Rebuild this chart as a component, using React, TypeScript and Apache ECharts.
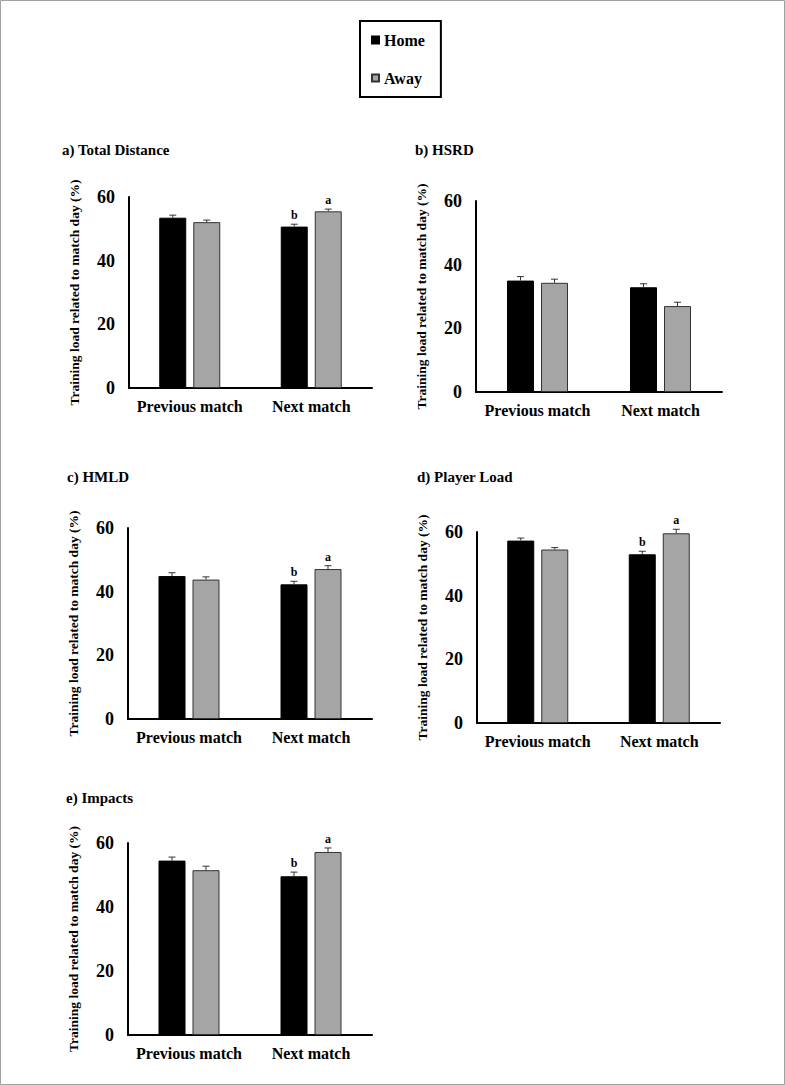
import React, { useEffect, useRef } from "react";
import * as echarts from "echarts";

const categories = ["Previous match", "Next match"];
const panelTitles = ["a) Total Distance", "b) HSRD", "c) HMLD", "d) Player Load", "e) Impacts"];
const yTicks = [0, 20, 40, 60];
const yAxisName = "Training load related to match day (%)";
const seriesNames = ["Home", "Away"];

// means per panel [Previous match, Next match]
const homeTotalDistance = [53.5, 50.7];
const awayTotalDistance = [52.1, 55.5];
const homeHSRD = [35.0, 32.9];
const awayHSRD = [34.3, 27.0];
const homeHMLD = [44.9, 42.3];
const awayHMLD = [43.8, 47.1];
const homePlayerLoad = [57.3, 53.0];
const awayPlayerLoad = [54.5, 59.6];
const homeImpacts = [54.5, 49.6];
const awayImpacts = [51.5, 57.2];

// error bar (upper) sizes
const homeErrTotalDistance = [0.8, 0.75];
const awayErrTotalDistance = [0.65, 0.7];
const homeErrHSRD = [1.25, 1.1];
const awayErrHSRD = [1.15, 1.2];
const homeErrHMLD = [1.05, 0.95];
const awayErrHMLD = [0.85, 1.05];
const homeErrPlayerLoad = [0.8, 0.95];
const awayErrPlayerLoad = [0.6, 1.25];
const homeErrImpacts = [1.1, 1.3];
const awayErrImpacts = [1.25, 1.25];

// significance letters
const homeSigTotalDistance = ["", "b"];
const awaySigTotalDistance = ["", "a"];
const homeSigHSRD = ["", ""];
const awaySigHSRD = ["", ""];
const homeSigHMLD = ["", "b"];
const awaySigHMLD = ["", "a"];
const homeSigPlayerLoad = ["", "b"];
const awaySigPlayerLoad = ["", "a"];
const homeSigImpacts = ["", "b"];
const awaySigImpacts = ["", "a"];

const panels = [
  { home: homeTotalDistance, away: awayTotalDistance, he: homeErrTotalDistance, ae: awayErrTotalDistance, hs: homeSigTotalDistance, as: awaySigTotalDistance },
  { home: homeHSRD, away: awayHSRD, he: homeErrHSRD, ae: awayErrHSRD, hs: homeSigHSRD, as: awaySigHSRD },
  { home: homeHMLD, away: awayHMLD, he: homeErrHMLD, ae: awayErrHMLD, hs: homeSigHMLD, as: awaySigHMLD },
  { home: homePlayerLoad, away: awayPlayerLoad, he: homeErrPlayerLoad, ae: awayErrPlayerLoad, hs: homeSigPlayerLoad, as: awaySigPlayerLoad },
  { home: homeImpacts, away: awayImpacts, he: homeErrImpacts, ae: awayErrImpacts, hs: homeSigImpacts, as: awaySigImpacts },
];

// layout (pixels)
const grids = [
  { left: 129, top: 197, width: 243, height: 191 },
  { left: 476, top: 201, width: 246, height: 191 },
  { left: 128, top: 528, width: 244, height: 191 },
  { left: 477, top: 532, width: 243, height: 191 },
  { left: 128, top: 843, width: 244, height: 192 },
];
const titlePos = [
  [62, 150],
  [415, 150],
  [67, 477],
  [417, 477],
  [66, 798],
];

const FONT = "'Liberation Serif', 'Times New Roman', serif";
const HOME_COLOR = "#000000";
const AWAY_COLOR = "#a5a5a5";
const BAR_W = 27;
const BAR_GAP = 7;
const OFFSET = (BAR_W + BAR_GAP) / 2;

export default function App() {
  const ref = useRef<HTMLDivElement>(null);

  useEffect(() => {
    if (!ref.current) return;
    const chart = echarts.init(ref.current, null, { renderer: "svg" });

    const gridOpt: any[] = [];
    const xAxes: any[] = [];
    const yAxes: any[] = [];
    const series: any[] = [];
    const graphics: any[] = [
      {
        type: "rect",
        shape: { x: 0.5, y: 0.5, width: 784, height: 1084 },
        style: { fill: "none", stroke: "#a0a0a0", lineWidth: 1 },
        silent: true,
      },
    ];

    panels.forEach((p, i) => {
      const g = grids[i];
      gridOpt.push({ left: g.left, top: g.top, width: g.width, height: g.height, containLabel: false });
      xAxes.push({
        type: "category",
        gridIndex: i,
        data: categories,
        axisLine: { show: true, lineStyle: { color: "#000", width: 2 } },
        axisTick: { show: false },
        axisLabel: { interval: 0, color: "#000", fontFamily: FONT, fontWeight: "bold", fontSize: 16, margin: 10 },
        splitLine: { show: false },
      });
      yAxes.push({
        type: "value",
        gridIndex: i,
        min: yTicks[0],
        max: yTicks[yTicks.length - 1],
        interval: yTicks[1] - yTicks[0],
        name: yAxisName,
        nameLocation: "middle",
        nameGap: 48,
        nameTextStyle: { color: "#000", fontFamily: FONT, fontWeight: "bold", fontSize: 13.5 },
        axisLine: { show: true, lineStyle: { color: "#000", width: 2 } },
        axisTick: { show: false },
        splitLine: { show: false },
        axisLabel: { color: "#000", fontFamily: FONT, fontWeight: "bold", fontSize: 18, margin: 14 },
      });
      series.push({
        type: "bar",
        name: seriesNames[0],
        xAxisIndex: i,
        yAxisIndex: i,
        data: p.home,
        barWidth: BAR_W,
        barGap: `${(BAR_GAP / BAR_W) * 100}%`,
        itemStyle: { color: HOME_COLOR, borderColor: "#000", borderWidth: 1 },
      });
      series.push({
        type: "bar",
        name: seriesNames[1],
        xAxisIndex: i,
        yAxisIndex: i,
        data: p.away,
        barWidth: BAR_W,
        barGap: `${(BAR_GAP / BAR_W) * 100}%`,
        itemStyle: { color: AWAY_COLOR, borderColor: "#333", borderWidth: 1 },
      });
      const makeErr = (means: number[], errs: number[], sigs: string[], side: number) => ({
        type: "custom",
        name: "err",
        xAxisIndex: i,
        yAxisIndex: i,
        silent: true,
        z: 5,
        data: means.map((m, k) => [k, m, errs[k]]),
        renderItem: (params: any, api: any) => {
          const cat = api.value(0);
          const mean = api.value(1);
          const err = api.value(2);
          const base = api.coord([cat, mean]);
          const top = api.coord([cat, mean + err]);
          const x = base[0] + side * OFFSET;
          const children: any[] = [
            {
              type: "line",
              shape: { x1: x, y1: base[1], x2: x, y2: top[1] },
              style: { stroke: "#333", lineWidth: 1 },
            },
            {
              type: "line",
              shape: { x1: x - 3.5, y1: top[1], x2: x + 3.5, y2: top[1] },
              style: { stroke: "#333", lineWidth: 1 },
            },
          ];
          const s = sigs[params.dataIndex];
          if (s) {
            children.push({
              type: "text",
              x: x,
              y: top[1] - 3,
              style: {
                text: s,
                fill: "#000",
                font: `bold 12px ${FONT}`,
                textAlign: "center",
                textVerticalAlign: "bottom",
              },
            });
          }
          return { type: "group", children };
        },
      });
      series.push(makeErr(p.home, p.he, p.hs, -1));
      series.push(makeErr(p.away, p.ae, p.as, 1));

      graphics.push({
        type: "text",
        x: titlePos[i][0],
        y: titlePos[i][1],
        style: {
          text: panelTitles[i],
          fill: "#000",
          font: `bold 15px ${FONT}`,
          textVerticalAlign: "middle",
        },
      });
    });

    chart.setOption({
      animation: false,
      backgroundColor: "#ffffff",
      grid: gridOpt,
      xAxis: xAxes,
      yAxis: yAxes,
      series,
      graphic: graphics,
      legend: {
        data: seriesNames,
        orient: "vertical",
        left: 360,
        top: 21,
        itemWidth: 7,
        itemHeight: 7,
        itemGap: 22,
        icon: "rect",
        padding: [11, 16, 11, 11],
        borderColor: "#000",
        borderWidth: 2,
        selectedMode: false,
        textStyle: { color: "#000", fontFamily: FONT, fontWeight: "bold", fontSize: 16 },
      },
    });

    return () => chart.dispose();
  }, []);

  return (
    <div
      ref={ref}
      style={{ position: "absolute", left: 0, top: 0, width: 785, height: 1085, background: "#fff" }}
    />
  );
}
